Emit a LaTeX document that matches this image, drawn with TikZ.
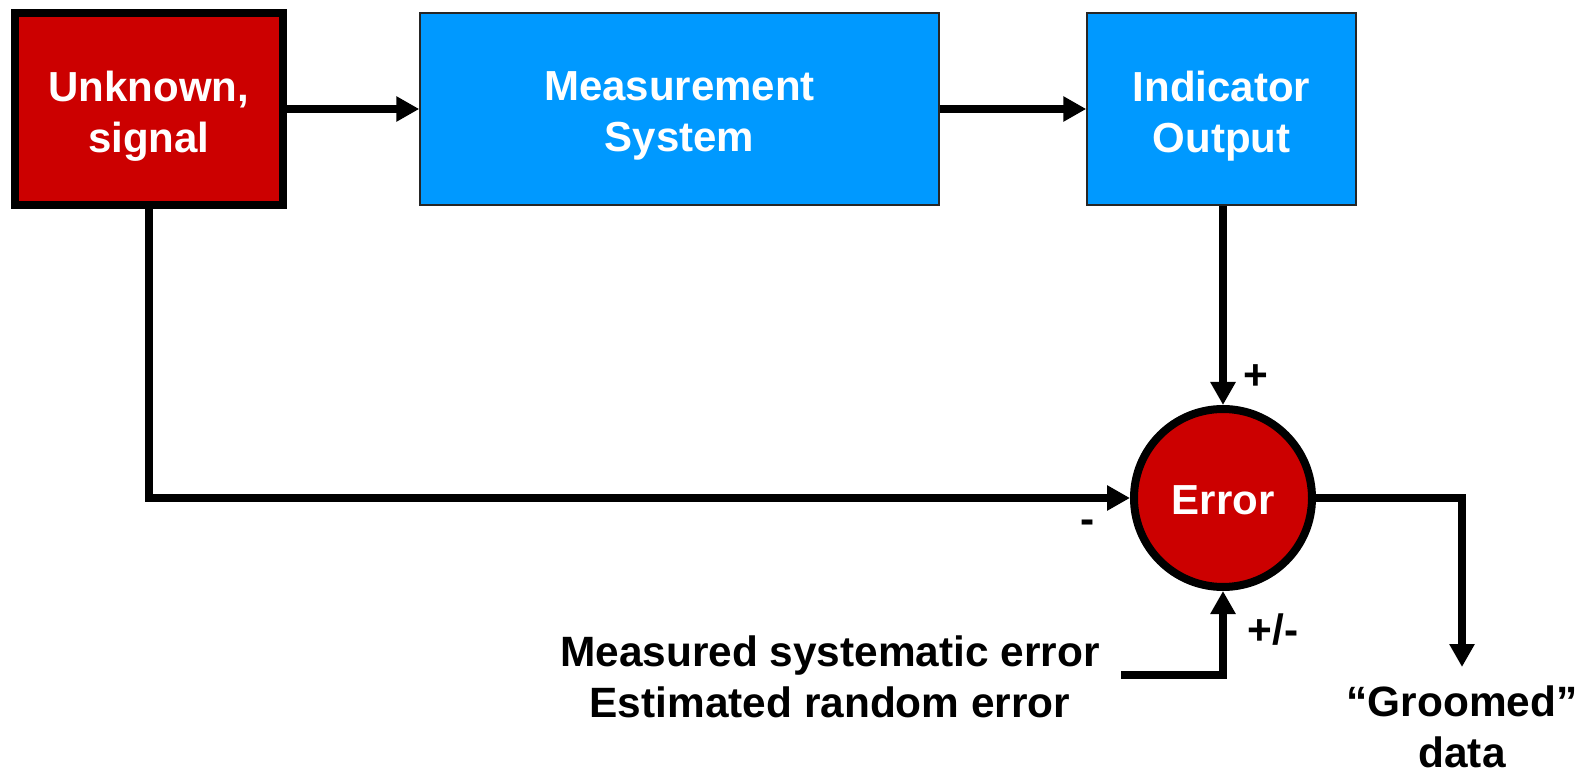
\documentclass[tikz,border=0pt]{standalone}
\usepackage{fontspec}
\setmainfont{Liberation Sans}
\usetikzlibrary{arrows.meta}
\definecolor{boxred}{RGB}{204,0,0}
\definecolor{boxblue}{RGB}{0,153,255}
\begin{document}
\begin{tikzpicture}[x=0.5pt,y=-0.5pt,
  conn/.style={line width=4pt, -{Triangle[length=11.5pt,width=12pt]}},
  redbox/.style={draw=black, fill=boxred, line width=4pt, inner sep=0pt, minimum width=134.25pt, minimum height=96pt},
  bluebox/.style={draw=black!85, fill=boxblue, line width=0.75pt, inner sep=0pt, minimum height=96pt},
  boxtext/.style={text=white, font=\bfseries\fontsize{21}{25.5}\selectfont, align=center, inner sep=0pt},
  lbl/.style={font=\bfseries\fontsize{21.2}{25.5}\selectfont, align=center, inner sep=0pt},
]
\useasboundingbox (0,0) rectangle (1592,775);
\node[redbox] (red) at (148.75,109) {};
\node[bluebox, minimum width=259.5pt] (meas) at (679.5,109) {};
\node[bluebox, minimum width=134.5pt] (ind) at (1221.5,109) {};
\node[circle, draw=black, fill=boxred, line width=4pt, inner sep=0pt, minimum size=89pt] (err) at (1223,498) {};

\node[boxtext] (redtxt) at ([yshift=-3.5pt]red.center) {Unknown,\\signal};
\node[boxtext] (meastxt) at ([yshift=-3.5pt]meas.center) {Measurement\\System};
\node[boxtext] (indtxt) at ([yshift=-3.5pt]ind.center) {Indicator\\Output};
\node[boxtext] (errtxt) at ([yshift=-1pt]err.center) {Error};

\draw[conn] (red.east |- meas.west) -- (meas.west);
\draw[conn] (meas.east) -- (ind.west);
\draw[conn] (ind.south -| err.north) -- (err.north);
\draw[conn] (red.south) |- (err.west);
\coordinate (gtip) at (1462,667);
\draw[conn] (err.east) -| (gtip);
\coordinate (msrc) at (1121,675);
\draw[conn] (msrc) -| (err.south);

\node[lbl] (plus) at (1256,377) {+};
\node[lbl] (minus) at (1088,527) {-};
\node[lbl] (pm) at (1273,630) {+/-};
\node[lbl] (msg) at (830,677) {Measured systematic error\\Estimated random error};
\node[lbl] (groom) at (1462,726.5) {“Groomed”\\data};
\end{tikzpicture}
\end{document}
